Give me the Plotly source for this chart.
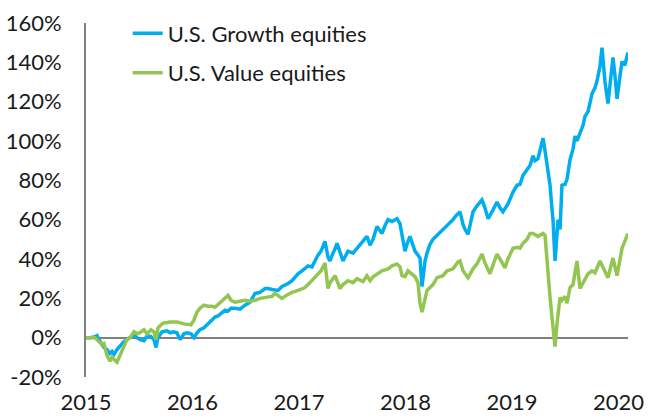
import plotly.graph_objects as go

# ---- data (time in decimal years, cumulative return in %) ----
growth_t = [2015.000, 2015.038, 2015.085, 2015.103, 2015.122, 2015.150, 2015.169, 2015.197, 2015.225, 2015.244,
            2015.263, 2015.291, 2015.319, 2015.357, 2015.385, 2015.413, 2015.451, 2015.479, 2015.507, 2015.545,
            2015.573, 2015.610, 2015.638, 2015.657, 2015.676, 2015.714, 2015.761, 2015.789, 2015.817, 2015.854,
            2015.883, 2015.920, 2015.948, 2015.986, 2016.014, 2016.042, 2016.070, 2016.108, 2016.146, 2016.183,
            2016.211, 2016.239, 2016.277, 2016.305, 2016.333, 2016.362, 2016.399, 2016.446, 2016.493, 2016.540,
            2016.587, 2016.634, 2016.681, 2016.709, 2016.746, 2016.803, 2016.840, 2016.897, 2016.934, 2016.962,
            2016.991, 2017.028, 2017.085, 2017.122, 2017.150, 2017.178, 2017.207, 2017.225, 2017.244, 2017.272,
            2017.291, 2017.319, 2017.338, 2017.357, 2017.385, 2017.413, 2017.432, 2017.460, 2017.507, 2017.545,
            2017.573, 2017.601, 2017.638, 2017.667, 2017.695, 2017.732, 2017.779, 2017.808, 2017.836, 2017.873,
            2017.920, 2017.948, 2017.967, 2017.995, 2018.023, 2018.042, 2018.070, 2018.089, 2018.117, 2018.136,
            2018.155, 2018.183, 2018.202, 2018.230, 2018.258, 2018.296, 2018.324, 2018.352, 2018.390, 2018.418,
            2018.446, 2018.474, 2018.512, 2018.540, 2018.559, 2018.587, 2018.606, 2018.634, 2018.671, 2018.718,
            2018.746, 2018.775, 2018.822, 2018.859, 2018.887, 2018.915, 2018.962, 2019.009, 2019.047, 2019.075,
            2019.103, 2019.141, 2019.169, 2019.197, 2019.216, 2019.244, 2019.263, 2019.291, 2019.310, 2019.329,
            2019.357, 2019.376, 2019.385, 2019.404, 2019.423, 2019.432, 2019.451, 2019.469, 2019.498, 2019.516,
            2019.545, 2019.573, 2019.592, 2019.610, 2019.638, 2019.667, 2019.685, 2019.714, 2019.751, 2019.779,
            2019.798, 2019.826, 2019.845, 2019.873, 2019.901, 2019.920, 2019.948, 2019.967, 2019.986, 2020.014,
            2020.033, 2020.042, 2020.061, 2020.089]
growth_v = [0, 0, 0.5, 1, -1, -3, -5, -6, -8, -7,
            -8.5, -6, -4, -2, -1, 0, 1.5, 0, -1, -1.5,
            1, 0.5, -1, -5, 0, 3, 3.5, 2.5, 3, 2.5,
            -1, 2, 2.5, 2, 0, 2.5, 4, 5, 7, 9,
            10.5, 11, 13, 14, 13.5, 15, 15, 14.5, 16.5, 18,
            22.5, 23, 25, 25, 24.5, 24, 26, 27.5, 29, 31,
            32.5, 34, 36.5, 36, 39, 42, 44, 47, 49, 41,
            39, 43, 45, 48, 43, 39, 41, 44, 43, 45.5,
            47, 49, 51.5, 47, 50, 56.5, 53, 57, 60, 59,
            60.5, 58, 53, 44, 49, 51.5, 47, 44, 42, 40.5,
            26, 39, 43, 47.5, 50, 52, 54, 55, 57, 59,
            60, 62, 64, 57.5, 55, 52.5, 58, 64, 67, 70,
            66, 60.5, 65, 69, 66, 64, 68, 74, 77.5, 78,
            82.5, 85, 87.5, 92.5, 90, 91, 95, 101.5, 95, 87.5,
            77.5, 65, 60, 39, 52, 60, 55, 77.5, 78, 80.5,
            90.5, 96, 102.5, 100, 104, 108, 112.5, 115, 124, 127,
            130.5, 138, 147.5, 130, 119, 130.5, 142.5, 133, 121.5, 133,
            140.5, 139, 139, 145]

value_t = [2015.000, 2015.038, 2015.085, 2015.103, 2015.122, 2015.150, 2015.169, 2015.197, 2015.225, 2015.244,
           2015.263, 2015.291, 2015.319, 2015.357, 2015.385, 2015.413, 2015.451, 2015.479, 2015.507, 2015.545,
           2015.573, 2015.610, 2015.638, 2015.657, 2015.676, 2015.714, 2015.732, 2015.789, 2015.854, 2015.920,
           2015.986, 2016.014, 2016.042, 2016.070, 2016.108, 2016.146, 2016.183, 2016.211, 2016.239, 2016.277,
           2016.305, 2016.333, 2016.362, 2016.399, 2016.446, 2016.493, 2016.540, 2016.587, 2016.634, 2016.681,
           2016.746, 2016.775, 2016.840, 2016.897, 2016.934, 2016.991, 2017.028, 2017.056, 2017.103, 2017.150,
           2017.207, 2017.244, 2017.272, 2017.291, 2017.338, 2017.385, 2017.413, 2017.460, 2017.507, 2017.545,
           2017.601, 2017.638, 2017.667, 2017.695, 2017.779, 2017.836, 2017.873, 2017.920, 2017.948, 2017.967,
           2017.995, 2018.023, 2018.070, 2018.089, 2018.117, 2018.136, 2018.155, 2018.183, 2018.202, 2018.258,
           2018.296, 2018.352, 2018.390, 2018.446, 2018.493, 2018.512, 2018.540, 2018.587, 2018.634, 2018.671,
           2018.718, 2018.746, 2018.793, 2018.822, 2018.859, 2018.887, 2018.934, 2018.962, 2019.009, 2019.047,
           2019.075, 2019.103, 2019.141, 2019.169, 2019.197, 2019.244, 2019.291, 2019.310, 2019.329, 2019.357,
           2019.376, 2019.404, 2019.423, 2019.451, 2019.469, 2019.498, 2019.516, 2019.545, 2019.573, 2019.610,
           2019.638, 2019.667, 2019.714, 2019.751, 2019.779, 2019.826, 2019.873, 2019.901, 2019.948, 2019.986,
           2020.033, 2020.061, 2020.089]
value_v = [0, 0, 0, -1, -2, -3.5, -3, -9, -12, -10,
           -11, -12.5, -9, -4, -1, 0, 3, 2, 2.5, 4,
           2, 4, 3, -1, 5, 7, 7.5, 8, 8, 7,
           6.5, 9, 13, 15, 16.5, 16, 16, 15.5, 17, 19,
           20, 21.5, 19, 18, 18.5, 19, 18.5, 19, 20, 20.5,
           21, 22.5, 20, 22, 23, 24, 25, 25.5, 28, 30.5,
           34, 38, 25, 28, 31.5, 25, 27, 29, 28, 30,
           28.5, 31.5, 29, 31, 34, 35, 36.5, 37.5, 36, 31.5,
           31, 34, 32, 31, 28, 17.5, 13, 19, 24, 27,
           30.5, 31.5, 34, 35, 38.5, 39, 34, 30.5, 35, 37.5,
           42.5, 38, 32.5, 37, 42.5, 40, 35.5, 40, 45.5, 46,
           45.5, 48, 50, 53, 53, 51.5, 53, 52, 37.5, 20.5,
           10, -4.5, 7.5, 20.5, 19, 21, 17.5, 25.5, 27, 39,
           25, 28, 32.5, 34, 33, 39, 33, 30.5, 40.5, 31.5,
           45.5, 49, 53]

years = [2015, 2016, 2017, 2018, 2019, 2020]
year_labels = ["2015", "2016", "2017", "2018", "2019", "2020"]
y_ticks = [-20, 0, 20, 40, 60, 80, 100, 120, 140, 160]
y_labels = [f"{v}%" for v in y_ticks]

FONT = "Lato"
fig = go.Figure()
fig.add_trace(go.Scatter(x=growth_t, y=growth_v, mode="lines", name="U.S. Growth equities",
                         legendgroup="g", line=dict(color="#00AEEF", width=3.5)))
fig.add_trace(go.Scatter(x=value_t, y=value_v, mode="lines", name="U.S. Value equities",
                         legendgroup="v", line=dict(color="#92C650", width=3.5)))

fig.update_layout(
    width=660, height=419,
    margin=dict(l=86, r=32, t=17, b=42),
    paper_bgcolor="white", plot_bgcolor="white",
    font=dict(family=FONT, size=22, color="#1a1a1a"),
    showlegend=True,
    legend=dict(x=0.077, y=1.03, xanchor="left", yanchor="top", bgcolor="rgba(0,0,0,0)",
                font=dict(size=22, color="#1a1a1a"), tracegroupgap=8, itemwidth=30),
    xaxis=dict(range=[2015, 2020.089], tickmode="array", tickvals=years, ticktext=year_labels,
               showgrid=False, zeroline=False, showline=False, ticks="", ticklabelstandoff=10,
               automargin=False),
    yaxis=dict(range=[-20, 160], tickmode="array", tickvals=y_ticks, ticktext=y_labels,
               showgrid=False, zeroline=True, zerolinecolor="#808080", zerolinewidth=2,
               showline=True, linecolor="#808080", linewidth=2, ticks="", ticklabelstandoff=18,
               automargin=False),
)

fig.write_html("out.html")
